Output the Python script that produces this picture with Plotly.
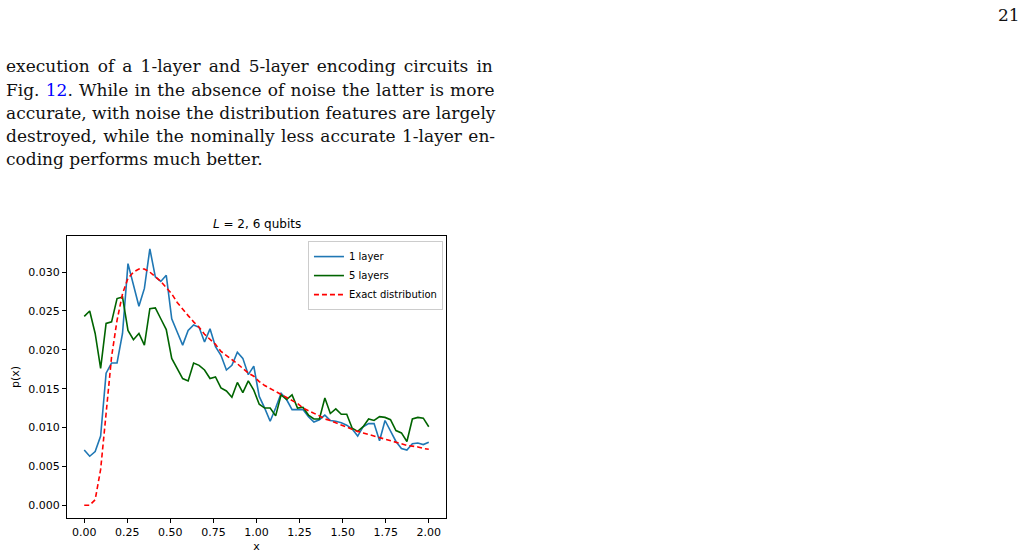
import numpy as np
import plotly.graph_objects as go

n_points = 64
x_vals = [2.0 * i / (n_points - 1) for i in range(n_points)]

one_layer = [
    0.0071, 0.0063, 0.0069, 0.0089, 0.0170, 0.0183, 0.0183, 0.0221, 0.0311, 0.0283,
    0.0256, 0.0279, 0.0330, 0.0294, 0.0288, 0.0296, 0.0240, 0.0223, 0.0206, 0.0225,
    0.0232, 0.0229, 0.0210, 0.0227, 0.0204, 0.0193, 0.0174, 0.0180, 0.0197, 0.0189,
    0.0168, 0.0179, 0.0140, 0.0125, 0.0108, 0.0125, 0.0144, 0.0136, 0.0123, 0.0123,
    0.0123, 0.0114, 0.0107, 0.0110, 0.0116, 0.0109, 0.0108, 0.0106, 0.0103, 0.0098,
    0.0089, 0.0101, 0.0105, 0.0105, 0.0083, 0.0109, 0.0095, 0.0082, 0.0073, 0.0071,
    0.0079, 0.0080, 0.0078, 0.0081,
]

five_layers = [
    0.0243, 0.0250, 0.0221, 0.0176, 0.0234, 0.0236, 0.0266, 0.0268, 0.0225, 0.0213,
    0.0221, 0.0206, 0.0253, 0.0254, 0.0240, 0.0226, 0.0189, 0.0176, 0.0163, 0.0160,
    0.0183, 0.0180, 0.0174, 0.0163, 0.0165, 0.0151, 0.0147, 0.0139, 0.0158, 0.0145,
    0.0160, 0.0148, 0.0130, 0.0125, 0.0125, 0.0115, 0.0142, 0.0136, 0.0142, 0.0125,
    0.0126, 0.0116, 0.0111, 0.0111, 0.0138, 0.0118, 0.0124, 0.0117, 0.0117, 0.0099,
    0.0095, 0.0101, 0.0111, 0.0109, 0.0114, 0.0113, 0.0110, 0.0096, 0.0093, 0.0082,
    0.0111, 0.0113, 0.0112, 0.0101,
]

exact = [
    0.0000, 0.0000, 0.0007, 0.0046, 0.0118, 0.0191, 0.0238, 0.0272, 0.0292, 0.0300,
    0.0304, 0.0304, 0.0300, 0.0294, 0.0288, 0.0280, 0.0272, 0.0261, 0.0252, 0.0244,
    0.0236, 0.0229, 0.0220, 0.0213, 0.0207, 0.0198, 0.0193, 0.0187, 0.0182, 0.0176,
    0.0170, 0.0166, 0.0159, 0.0154, 0.0150, 0.0146, 0.0142, 0.0139, 0.0135, 0.0131,
    0.0125, 0.0122, 0.0119, 0.0115, 0.0111, 0.0109, 0.0106, 0.0103, 0.0100, 0.0097,
    0.0095, 0.0093, 0.0091, 0.0089, 0.0087, 0.0085, 0.0083, 0.0081, 0.0079, 0.0077,
    0.0076, 0.0075, 0.0073, 0.0072,
]

x_ticks = [0.0, 0.25, 0.5, 0.75, 1.0, 1.25, 1.5, 1.75, 2.0]
x_tick_labels = ["0.00", "0.25", "0.50", "0.75", "1.00", "1.25", "1.50", "1.75", "2.00"]
y_ticks = [0.0, 0.005, 0.010, 0.015, 0.020, 0.025, 0.030]
y_tick_labels = ["0.000", "0.005", "0.010", "0.015", "0.020", "0.025", "0.030"]

paragraph_lines = [
    "execution of a 1-layer and 5-layer encoding circuits in",
    'Fig. <span style="color:#0000ff">12</span>. While in the absence of noise the latter is more',
    "accurate, with noise the distribution features are largely",
    "destroyed, while the nominally less accurate 1-layer en-",
    "coding performs much better.",
]
line_word_spacing = [2.7, 0.8, 0.0, 1.0, 0.0]

fig = go.Figure()
fig.add_trace(go.Scatter(x=x_vals, y=one_layer, mode="lines", name="1 layer",
                         line=dict(color="#1f77b4", width=1.6)))
fig.add_trace(go.Scatter(x=x_vals, y=five_layers, mode="lines", name="5 layers",
                         line=dict(color="#006400", width=1.6)))
fig.add_trace(go.Scatter(x=x_vals, y=exact, mode="lines", name="Exact distribution",
                         line=dict(color="#ff0000", width=1.6, dash="5px,3px")))

axis_common = dict(showgrid=False, zeroline=False, showline=True, linecolor="black",
                   linewidth=1, mirror=True, ticks="outside", ticklen=4, tickwidth=1,
                   tickcolor="black", automargin=False,
                   tickfont=dict(family="DejaVu Sans", size=11, color="black"))

fig.update_xaxes(range=[-0.1, 2.1], tickvals=x_ticks, ticktext=x_tick_labels,
                 title=dict(text="x", font=dict(family="DejaVu Sans", size=11, color="black"), standoff=4),
                 **axis_common)
fig.update_yaxes(range=[-0.00165, 0.03465], tickvals=y_ticks, ticktext=y_tick_labels,
                 title=dict(text="p(x)", font=dict(family="DejaVu Sans", size=11, color="black"), standoff=6),
                 **axis_common)

annotations = []
line_y = [66, 89.5, 113, 136, 159]
for txt, ws, yy in zip(paragraph_lines, line_word_spacing, line_y):
    styled = '<span style="word-spacing:%.1fpx">%s</span>' % (ws, txt)
    annotations.append(dict(text=styled, xref="paper", yref="paper", x=(4 - 67) / 379,
                            y=(518 - yy) / 282, xanchor="left", yanchor="middle",
                            showarrow=False,
                            font=dict(family="DejaVu Serif", size=17, color="#111111")))
annotations.append(dict(text="21", xref="paper", yref="paper", x=(1022 - 67) / 379,
                        y=(518 - 15) / 282, xanchor="right", yanchor="middle", showarrow=False,
                        font=dict(family="DejaVu Serif", size=17, color="#111111")))
annotations.append(dict(text="<i>L</i> = 2, 6 qubits", xref="paper", yref="paper", x=0.5,
                        y=(518 - 224) / 282, xanchor="center", yanchor="middle", showarrow=False,
                        font=dict(family="DejaVu Sans", size=12, color="black")))

fig.update_layout(
    width=1027, height=555,
    margin=dict(l=67, r=1027 - 446, t=236, b=555 - 518),
    paper_bgcolor="white", plot_bgcolor="white",
    showlegend=True,
    legend=dict(x=0.992, y=0.982, xanchor="right", yanchor="top",
                bgcolor="rgba(255,255,255,0.8)", bordercolor="#cccccc", borderwidth=1,
                font=dict(family="DejaVu Sans", size=10, color="black"),
                tracegroupgap=0, itemwidth=30),
    annotations=annotations,
)

fig.write_html("out.html")
